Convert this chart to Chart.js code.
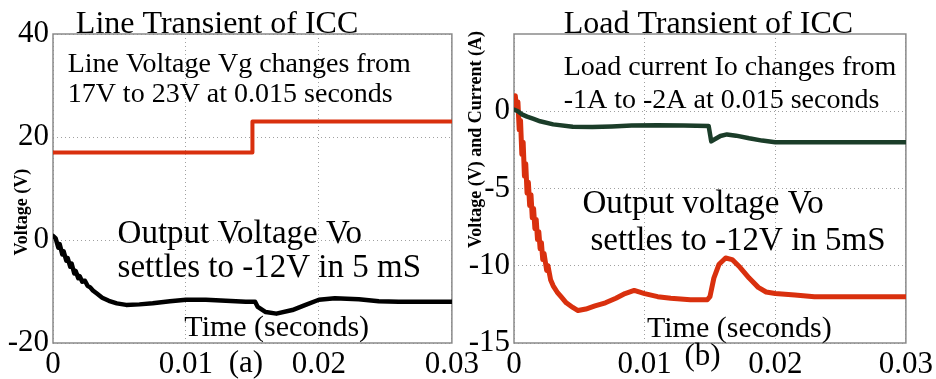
<!DOCTYPE html>
<html>
<head>
<meta charset="utf-8">
<script src="https://cdn.jsdelivr.net/npm/chart.js@4.4.0/dist/chart.umd.min.js"></script>
<style>
  body { margin: 0; background: #fff; }
  #wrap { position: relative; width: 936px; height: 379px; overflow: hidden; }
  #lineChart { position: absolute; left: 0; top: 0; }
  #loadChart { position: absolute; left: 466px; top: 0; }
</style>
</head>
<body>
<div id="wrap">
  <canvas id="lineChart" width="482" height="379"></canvas>
  <canvas id="loadChart" width="470" height="379"></canvas>
</div>
<script>
// tick positions
const timeTicks = [0, 0.01, 0.02, 0.03];
const lineYTicks = [-20, 0, 20, 40];
const loadYTicks = [-15, -10, -5, 0];

// (a) line transient: input voltage step and output voltage
const vgTime = [0, 0.015, 0.015, 0.03];
const vgValue = [17, 17, 23, 23];

const voLineTime = [0, 0.0002, 0.0004, 0.0005, 0.0007, 0.0008, 0.0010, 0.0011, 0.0013, 0.0014,
  0.0016, 0.0017, 0.0019, 0.0020, 0.0022, 0.0024, 0.0026, 0.0028, 0.0030, 0.0033,
  0.0037, 0.0042, 0.0048, 0.0055, 0.0065, 0.0075, 0.0088, 0.0100, 0.0115, 0.0130,
  0.0145, 0.0152, 0.0154, 0.0160, 0.0168, 0.0180, 0.0190, 0.0200, 0.0212, 0.0230,
  0.0245, 0.0260, 0.0300];
const voLineValue = [0.8, 0.3, -1.5, -0.8, -2.8, -2.2, -4.0, -3.5, -5.2, -4.6,
  -6.5, -6.0, -7.4, -7.0, -8.1, -7.9, -8.9, -9.2, -9.8, -10.4,
  -11.2, -11.8, -12.3, -12.6, -12.5, -12.3, -11.9, -11.6, -11.6, -11.8,
  -12.0, -12.0, -13.0, -14.0, -14.3, -13.6, -12.6, -11.6, -11.3, -11.5,
  -11.9, -12.0, -12.0];

// (b) load transient: output voltage and load current
const voLoadTime = [0, 0.0001, 0.0002, 0.0003, 0.0004, 0.0005, 0.0006, 0.0007, 0.0008, 0.0009,
  0.0010, 0.0011, 0.0012, 0.0013, 0.0014, 0.0015, 0.0016, 0.0017, 0.0018, 0.0019,
  0.0020, 0.0021, 0.0022, 0.0023, 0.0025, 0.0026, 0.0028, 0.0030, 0.0033, 0.0036,
  0.0040, 0.0045, 0.0049, 0.0055, 0.0062, 0.0070, 0.0078, 0.0085, 0.0092, 0.0100,
  0.0110, 0.0120, 0.0135, 0.0148, 0.0150, 0.0153, 0.0157, 0.0162, 0.0167, 0.0173,
  0.0180, 0.0187, 0.0193, 0.0200, 0.0215, 0.0230, 0.0300];
const voLoadValue = [0.8, 1.0, 0.2, 0.6, -1.2, -0.6, -2.8, -2.0, -4.2, -3.4,
  -5.3, -4.6, -6.1, -5.4, -6.9, -6.3, -7.6, -7.0, -8.3, -7.8,
  -8.9, -8.5, -9.6, -9.2, -10.3, -10.0, -10.9, -11.3, -11.7, -12.0,
  -12.4, -12.7, -12.9, -12.8, -12.6, -12.4, -12.1, -11.8, -11.6, -11.8,
  -12.0, -12.1, -12.2, -12.2, -12.0, -10.8, -9.9, -9.5, -9.6, -10.1,
  -10.8, -11.4, -11.7, -11.8, -11.9, -12.0, -12.0];

const ioTime = [0, 0.0003, 0.0006, 0.0010, 0.0015, 0.0020, 0.0030, 0.0045, 0.0060, 0.0075,
  0.0090, 0.0110, 0.0130, 0.0149, 0.0151, 0.0154, 0.0158, 0.0163, 0.0170, 0.0180,
  0.0190, 0.0200, 0.0300];
const ioValue = [0.1, 0.0, -0.2, -0.35, -0.5, -0.65, -0.85, -1.0, -1.02, -0.98,
  -0.92, -0.9, -0.92, -0.95, -1.95, -1.8, -1.6, -1.5, -1.58, -1.75,
  -1.9, -2.0, -2.0];

const serif = "'Liberation Serif', 'Times New Roman', serif";
const RED = '#d9300e';
const GREEN = '#1b3d29';

function pts(xs, ys) {
  return xs.map((x, i) => ({ x: x, y: ys[i] }));
}

// draws the plot frame, the in-plot notes and the rotated y title
const notesPlugin = {
  id: 'notes',
  beforeDatasetsDraw(chart) {
    const { ctx, chartArea: a } = chart;
    ctx.save();
    ctx.strokeStyle = '#8a8a8a';
    ctx.lineWidth = 1.5;
    ctx.strokeRect(a.left, a.top, a.width, a.height);
    ctx.restore();
  },
  afterDraw(chart, args, opts) {
    const { ctx, scales: { x, y } } = chart;
    ctx.save();
    ctx.fillStyle = '#000';
    ctx.textBaseline = 'alphabetic';
    opts.texts.forEach(t => {
      ctx.font = t.size + 'px ' + serif;
      ctx.textAlign = t.align || 'left';
      ctx.fillText(t.text, x.getPixelForValue(t.x), y.getPixelForValue(t.y));
    });
    const yt = opts.yTitle;
    ctx.translate(yt.px, y.getPixelForValue(yt.y));
    ctx.rotate(-Math.PI / 2);
    ctx.font = 'bold 18px ' + serif;
    ctx.textAlign = 'center';
    ctx.textBaseline = 'middle';
    ctx.fillText(yt.text, 0, 0);
    ctx.restore();
  }
};

function makeScales(yTicks, yMin, yMax, yWidth) {
  const tickFont = { family: serif, size: 31 };
  return {
    x: {
      type: 'linear', min: 0, max: 0.03,
      afterBuildTicks: s => { s.ticks = timeTicks.map(v => ({ value: v })); },
      afterFit: s => { s.height = 36; },
      ticks: { color: '#000', font: tickFont, padding: 3, maxRotation: 0, callback: v => String(v) },
      grid: { color: '#a0a0a0', lineWidth: 1, drawTicks: false },
      border: { display: false, dash: [1, 3] }
    },
    y: {
      type: 'linear', min: yMin, max: yMax,
      afterBuildTicks: s => { s.ticks = yTicks.map(v => ({ value: v })); },
      afterFit: s => { s.width = yWidth; },
      ticks: { color: '#000', font: tickFont, padding: 4, callback: v => String(v) },
      grid: { color: '#a0a0a0', lineWidth: 1, drawTicks: false },
      border: { display: false, dash: [1, 3] }
    }
  };
}

const common = {
  responsive: false,
  devicePixelRatio: 1,
  animation: false,
  events: [],
  elements: { point: { radius: 0 }, line: { tension: 0, borderJoinStyle: 'round', borderCapStyle: 'round' } },
};

new Chart(document.getElementById('lineChart'), {
  type: 'line',
  data: {
    datasets: [
      { data: pts(vgTime, vgValue), borderColor: RED, borderWidth: 4 },
      { data: pts(voLineTime, voLineValue), borderColor: '#000', borderWidth: 4.5 }
    ]
  },
  options: Object.assign({}, common, {
    layout: { padding: { left: 0, top: 34, right: 28, bottom: 0 } },
    scales: makeScales(lineYTicks, -20, 40, 53),
    plugins: {
      legend: { display: false },
      tooltip: { enabled: false },
      notes: {
        yTitle: { text: 'Voltage (V)', px: 22, y: 5.4 },
        texts: [
          { text: 'Line Transient of ICC', x: 0.00172, y: 40.2, size: 32 },
          { text: 'Line Voltage Vg changes from', x: 0.0011, y: 32.6, size: 28 },
          { text: '17V to 23V at 0.015 seconds', x: 0.0011, y: 26.8, size: 28 },
          { text: 'Output Voltage Vo', x: 0.00486, y: -0.6, size: 33 },
          { text: 'settles to -12V in 5 mS', x: 0.00486, y: -7.2, size: 33 },
          { text: 'Time (seconds)', x: 0.00988, y: -18.65, size: 30 },
          { text: '(a)', x: 0.01451, y: -25.6, size: 31, align: 'center' }
        ]
      }
    }
  }),
  plugins: [notesPlugin]
});

new Chart(document.getElementById('loadChart'), {
  type: 'line',
  data: {
    datasets: [
      { data: pts(ioTime, ioValue), borderColor: GREEN, borderWidth: 4.5 },
      { data: pts(voLoadTime, voLoadValue), borderColor: RED, borderWidth: 5 }
    ]
  },
  options: Object.assign({}, common, {
    layout: { padding: { left: 0, top: 34, right: 28, bottom: 0 } },
    scales: makeScales(loadYTicks, -15, 5, 48),
    plugins: {
      legend: { display: false },
      tooltip: { enabled: false },
      notes: {
        yTitle: { text: 'Voltage (V) and Current (A)', px: 10, y: -1.83 },
        texts: [
          { text: 'Load Transient of ICC', x: 0.0038, y: 5.06, size: 32 },
          { text: 'Load current Io changes from', x: 0.0038, y: 2.35, size: 28 },
          { text: '-1A to -2A at 0.015 seconds', x: 0.0038, y: 0.21, size: 28 },
          { text: 'Output voltage Vo', x: 0.00524, y: -6.58, size: 33 },
          { text: 'settles to -12V in 5mS', x: 0.00585, y: -8.98, size: 33 },
          { text: 'Time (seconds)', x: 0.01018, y: -14.61, size: 30 },
          { text: '(b)', x: 0.01443, y: -16.4, size: 31, align: 'center' }
        ]
      }
    }
  }),
  plugins: [notesPlugin]
});
</script>
</body>
</html>
